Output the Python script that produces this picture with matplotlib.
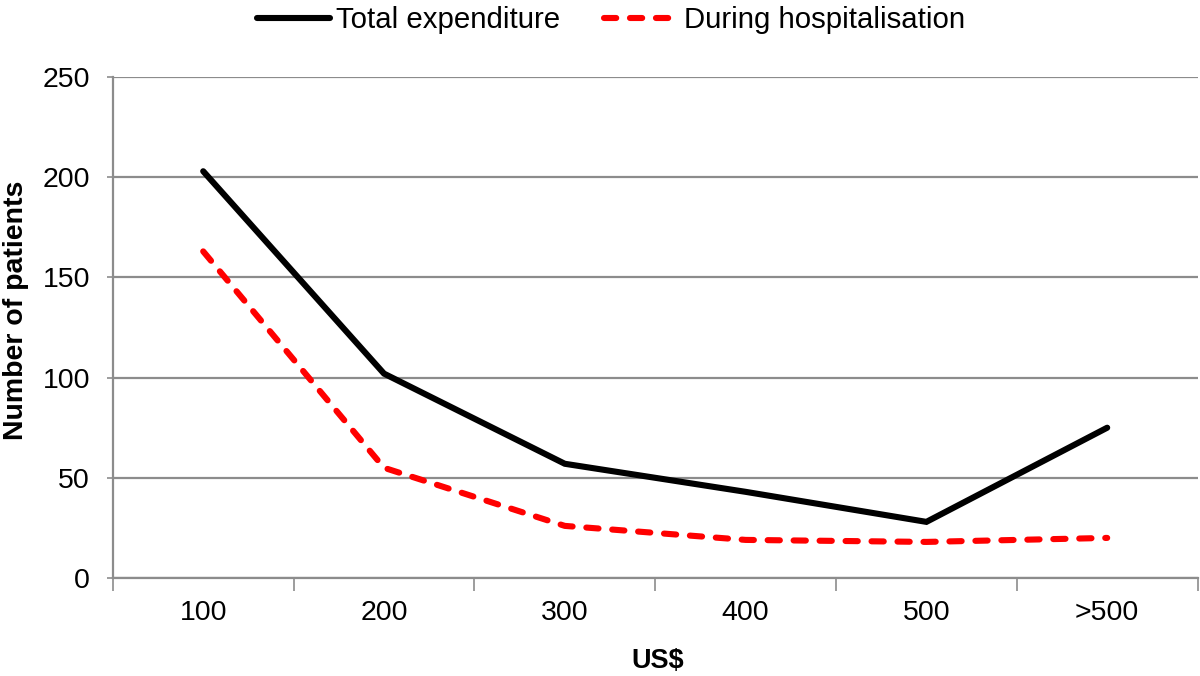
import matplotlib
matplotlib.use("Agg")
import matplotlib.pyplot as plt
from matplotlib.ticker import FixedLocator, MultipleLocator

plt.rcParams['font.family'] = ['Liberation Sans', 'DejaVu Sans']

categories = ["100", "200", "300", "400", "500", ">500"]
total_expenditure = [203, 102, 57, 43, 28, 75]
during_hospitalisation = [163, 55, 26, 19, 18, 20]

fig = plt.figure(figsize=(12, 6.76), dpi=100)
ax = fig.add_axes([0.094, 0.145, 0.904, 0.741])

x = list(range(len(categories)))
l1, = ax.plot(x, total_expenditure, color='black', lw=4.4, solid_joinstyle='miter',
              solid_capstyle='round', label='Total expenditure', zorder=3)
l2, = ax.plot(x, during_hospitalisation, color='#ff0000', lw=4.4, dashes=(2.0, 2.25),
              dash_capstyle='round', label='During hospitalisation', zorder=3)

ax.set_xlim(-0.5, len(categories) - 0.5)
ax.set_ylim(0, 250)
ax.yaxis.set_major_locator(MultipleLocator(50))
ax.grid(axis='y', color='#8c8c8c', lw=1.6)
ax.set_axisbelow(True)

ax.set_xticks(x)
ax.set_xticklabels(categories)
ax.xaxis.set_minor_locator(FixedLocator([i - 0.5 for i in range(len(categories) + 1)]))
ax.tick_params(axis='x', which='major', length=0, pad=16, labelsize=20.5)
ax.tick_params(axis='x', which='minor', length=9, width=1.2, color='#8c8c8c', direction='out')
ax.tick_params(axis='y', which='major', length=4.5, width=1.2, color='#8c8c8c', labelsize=20.5, pad=12)

for s in ['top', 'right']:
    ax.spines[s].set_visible(False)
for s in ['left', 'bottom']:
    ax.spines[s].set_color('#8c8c8c')
    ax.spines[s].set_linewidth(1.6)

ax.set_ylabel('Number of patients', fontsize=20.5, fontweight='bold', va='center')
ax.yaxis.set_label_coords(-0.0895, 0.535)
ax.set_xlabel('US$', fontsize=19.5, fontweight='bold', va='center')
ax.xaxis.set_label_coords(0.502, -0.166)

fig.legend(handles=[l1, l2], loc='upper center', bbox_to_anchor=(0.509, 1.03), ncol=2,
           frameon=False, fontsize=21.2, handlelength=2.5, columnspacing=1.5, handletextpad=0.2)

fig.savefig('out.png', dpi=100)
